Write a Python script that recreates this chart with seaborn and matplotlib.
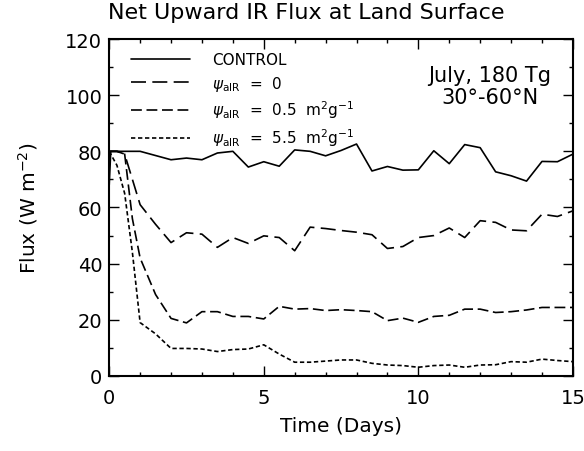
import numpy as np
import pandas as pd
import matplotlib
matplotlib.use("Agg")
import matplotlib.pyplot as plt
import seaborn as sns
from matplotlib.ticker import MultipleLocator

# control run (days, W m-2)
t_ctrl = [0, 0.05] + list(np.arange(0.5, 15.01, 0.5))
flux_ctrl = [68, 80, 80, 80, 78.5, 77, 77.6, 77, 79.4, 80, 74.4, 76.3, 74.7, 80.5, 80,
             78.4, 80.3, 82.6, 73, 74.6, 73.3, 73.4, 80.2, 75.6, 82.4, 81.3, 72.7, 71.3,
             69.4, 76.4, 76.3, 79]

# aerosol runs
t_aer = [0, 0.25, 0.5, 0.75, 1.0] + list(np.arange(1.5, 15.01, 0.5))
flux_psi0 = [80, 80, 79, 70, 61, 54, 47.5, 51, 50.5, 45.8, 49.3, 47.2, 49.9, 49.3, 44.6,
             53, 52.5, 51.8, 51.2, 50.3, 45.4, 46.1, 49.3, 50, 52.7, 49.3, 55.3, 54.7,
             52, 51.7, 57.6, 56.8, 58.8]
flux_psi05 = [80, 80, 79, 56, 42, 29, 20.5, 18.9, 22.9, 22.9, 21.2, 21.2, 20.3, 24.8, 23.8,
              24, 23.3, 23.6, 23.3, 22.9, 19.7, 20.6, 19.1, 21.2, 21.6, 23.8, 23.8, 22.6,
              22.9, 23.5, 24.4, 24.4, 24.4]
flux_psi55 = [80, 75, 65, 44, 19, 15, 9.8, 9.8, 9.6, 8.7, 9.4, 9.6, 11.1, 7.8, 4.9, 4.9,
              5.3, 5.7, 5.7, 4.5, 3.9, 3.7, 3.1, 3.7, 3.9, 3.1, 3.9, 4.0, 5.1, 4.9, 6.0,
              5.5, 5.1]

labels = ["CONTROL",
          r"$\psi_{\rm aIR}$  =  0",
          r"$\psi_{\rm aIR}$  =  0.5  m$^2$g$^{-1}$",
          r"$\psi_{\rm aIR}$  =  5.5  m$^2$g$^{-1}$"]

frames = [pd.DataFrame({"time": t_ctrl, "flux": flux_ctrl, "case": labels[0]})]
for lab, vals in zip(labels[1:], [flux_psi0, flux_psi05, flux_psi55]):
    frames.append(pd.DataFrame({"time": t_aer, "flux": vals, "case": lab}))
df = pd.concat(frames, ignore_index=True)

sns.set_style("ticks")
plt.rcParams['font.family'] = ['DejaVu Sans']
plt.rcParams['mathtext.fontset'] = 'dejavusans'
for k in ["text.color", "axes.labelcolor", "xtick.color", "ytick.color"]:
    plt.rcParams[k] = "black"

fig = plt.figure(figsize=(5.84, 4.52), dpi=100)
ax = fig.add_axes([0.187, 0.166, 0.794, 0.7455])

dash_map = {labels[0]: "", labels[1]: (9, 3.8), labels[2]: (6.5, 2.8), labels[3]: (2.6, 1.6)}
sns.lineplot(data=df, x="time", y="flux", hue="case", style="case",
             hue_order=labels, style_order=labels,
             palette=["black"] * 4, dashes=dash_map, estimator=None, sort=False,
             linewidth=1.2, ax=ax)

handles, labs = ax.get_legend_handles_labels()
ax.legend(handles, labs, loc="upper left", bbox_to_anchor=(0.048, 0.96), frameon=False,
          fontsize=11, handlelength=3.8, handletextpad=1.5, labelspacing=0.4,
          borderpad=0, borderaxespad=0)

ax.set_xlim(0, 15)
ax.set_ylim(0, 120)
ax.xaxis.set_major_locator(MultipleLocator(5))
ax.xaxis.set_minor_locator(MultipleLocator(1))
ax.yaxis.set_major_locator(MultipleLocator(20))
ax.yaxis.set_minor_locator(MultipleLocator(10))
ax.tick_params(which="both", direction="in", top=True, right=True, width=1.0, color="black")
ax.tick_params(which="major", length=7)
ax.tick_params(which="minor", length=3)
ax.tick_params(axis="x", which="major", pad=9, labelsize=14)
ax.tick_params(axis="y", which="major", pad=5, labelsize=14)
for sp in ax.spines.values():
    sp.set_linewidth(1.5)
    sp.set_color("black")

ax.set_xlabel("Time (Days)", fontsize=14.5, labelpad=6)
ax.set_ylabel(r"Flux (W m$^{-2}$)", fontsize=14.5, labelpad=18)

ax.text(0.82, 0.86, "July, 180 Tg\n30°-60°N", transform=ax.transAxes, ha="center",
        va="center", fontsize=15, linespacing=1.15)
fig.text(0.525, 0.971, "Net Upward IR Flux at Land Surface", ha="center", va="center",
         fontsize=16)

fig.savefig("out.png", dpi=100)
